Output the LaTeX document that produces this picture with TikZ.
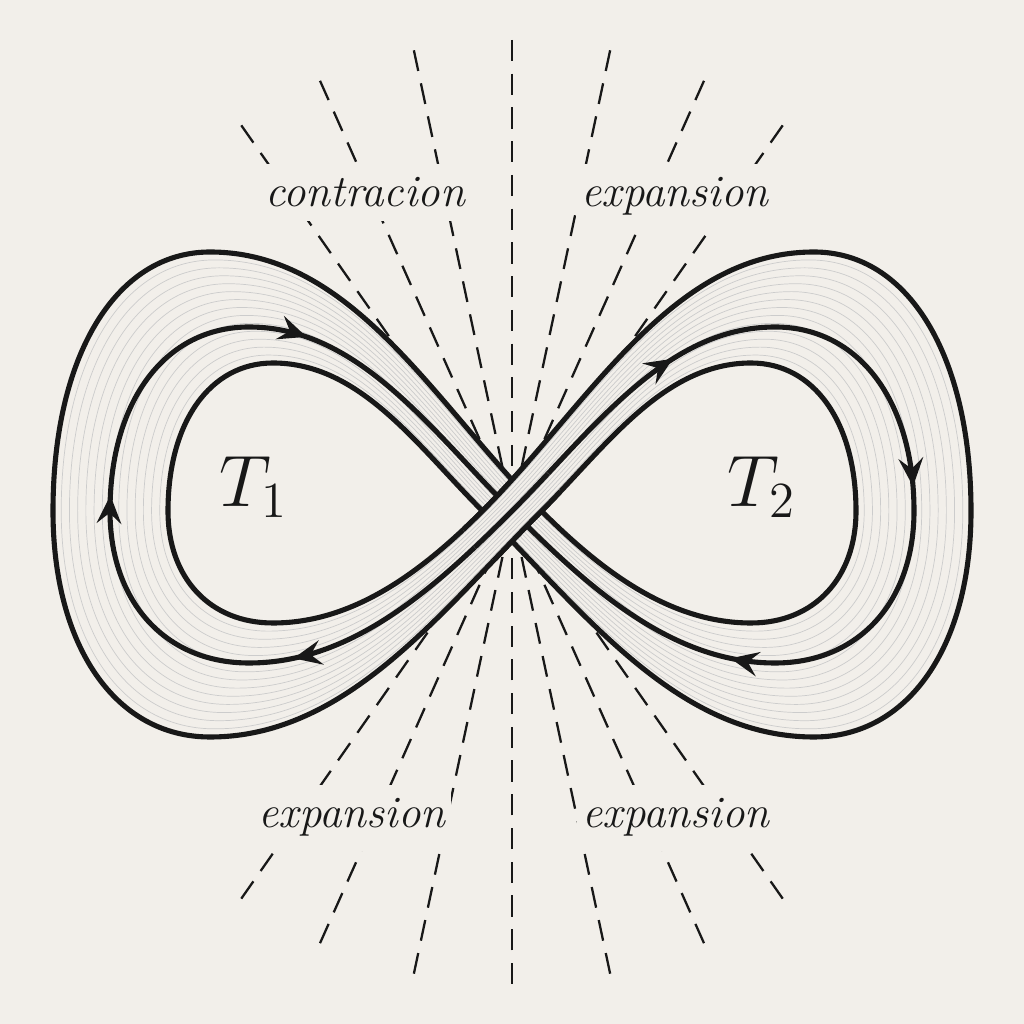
\documentclass[tikz,border=0pt]{standalone}
\usepackage{fontspec}
\usetikzlibrary{arrows.meta,decorations.markings}

\definecolor{paper}{RGB}{242,239,234}
\definecolor{ink}{RGB}{24,24,24}

% crossing angle and offset of the two ribbon edges
\def\eal{45}
\def\ecross{29.5}

% control lengths of one figure-eight
\newcommand\setctrl{%
  \pgfmathsetmacro\aLu{0.36*veclen(\lT+\xc,\lHu)}%
  \pgfmathsetmacro\bLu{0.34*veclen(\lT+\xc,\lHu)}%
  \pgfmathsetmacro\aLd{0.36*veclen(\lT+\xc,\lHd)}%
  \pgfmathsetmacro\bLd{0.34*veclen(\lT+\xc,\lHd)}%
  \pgfmathsetmacro\aRu{0.36*veclen(\rT-\xc,\rHu)}%
  \pgfmathsetmacro\bRu{0.34*veclen(\rT-\xc,\rHu)}%
  \pgfmathsetmacro\aRd{0.36*veclen(\rT-\xc,\rHd)}%
  \pgfmathsetmacro\bRd{0.34*veclen(\rT-\xc,\rHd)}%
  \pgfmathsetmacro\eL{0.6*(\lW-\lT)}%
  \pgfmathsetmacro\eR{0.6*(\rW-\rT)}%
  \pgfmathsetmacro\vLu{0.6*\lHu}\pgfmathsetmacro\vLd{0.6*\lHd}%
  \pgfmathsetmacro\vRu{0.6*\rHu}\pgfmathsetmacro\vRd{0.6*\rHd}}

% 0 = left inner + right outer, 1 = left outer + right inner
\newcommand\setlobes[1]{%
  \pgfmathsetmacro\lam{#1}%
  \pgfmathsetmacro\xc{(2*\lam-1)*\ecross}%
  \pgfmathsetmacro\lT{239+63*\lam}\pgfmathsetmacro\lW{344+115*\lam}%
  \pgfmathsetmacro\lHu{148+111*\lam}\pgfmathsetmacro\lHd{112+114*\lam}%
  \pgfmathsetmacro\rT{239+63*(1-\lam)}\pgfmathsetmacro\rW{344+115*(1-\lam)}%
  \pgfmathsetmacro\rHu{148+111*(1-\lam)}\pgfmathsetmacro\rHd{112+114*(1-\lam)}%
  \setctrl}

\newcommand\setmiddle{%
  \def\xc{0}%
  \def\lT{263}\def\lW{402}\def\lHu{184}\def\lHd{152}%
  \def\rT{263}\def\rW{402}\def\rHu{184}\def\rHd{152}%
  \setctrl}

\newcommand\eightpath{(\xc,0)
  .. controls +(180-\eal:\aLu) and +(0:\bLu) .. (-\lT,\lHu)
  .. controls +(180:\eL) and +(90:\vLu) .. (-\lW,0)
  .. controls +(270:\vLd) and +(180:\eL) .. (-\lT,-\lHd)
  .. controls +(0:\bLd) and +(180+\eal:\aLd) .. (\xc,0)
  .. controls +(\eal:\aRu) and +(180:\bRu) .. (\rT,\rHu)
  .. controls +(0:\eR) and +(90:\vRu) .. (\rW,0)
  .. controls +(270:\vRd) and +(0:\eR) .. (\rT,-\rHd)
  .. controls +(180:\bRd) and +(-\eal:\aRd) .. (\xc,0) -- cycle}

% the strand that passes over the crossing
\newcommand\overpath{(-\lT,-\lHd)
  .. controls +(0:\bLd) and +(180+\eal:\aLd) .. (\xc,0)
  .. controls +(\eal:\aRu) and +(180:\bRu) .. (\rT,\rHu)}

\begin{document}
\begin{tikzpicture}[x=0.1mm, y=0.1mm,
  ray/.style={draw=ink, line width=0.65pt, dash pattern=on 6pt off 3.6pt},
  edge/.style={draw=ink, line width=1.45pt},
  hatch/.style={draw=gray!40, line width=0.2pt},
  lbl/.style={font=\fontsize{12.8}{15}\selectfont\itshape, fill=paper,
              inner xsep=1.5pt, inner ysep=4pt, text=ink},
  tlbl/.style={font=\fontsize{19.5}{23}\selectfont, text=ink, inner sep=0pt},
  flow/.tip={Stealth[length=8pt, width=7pt, inset=3pt]}]

\fill[paper] (0,0) rectangle (1024,1024);
\useasboundingbox (0,0) rectangle (1024,1024);

% dashed rays from the centre
\foreach \a in {-35,-24,-12,0,12,24,35}{
  \draw[ray, shift={(512,512)}] (90+\a:472) -- (90+\a:30);
  \draw[ray, shift={(512,512)}] (270+\a:472) -- (270+\a:30);}

% labels
\node[lbl, anchor=base] (contr) at (365,817) {contracion};
\node[lbl, anchor=base] (expTR) at (675,817) {expansion};
\node[lbl, anchor=base] (expBL) at (352,196) {expansion};
\node[lbl, anchor=base] (expBR) at (676,196) {expansion};

\begin{scope}[shift={(512,513)}]
  % ribbon covers the rays
  \setlobes{0}\fill[paper] \eightpath;
  \setlobes{1}\fill[paper] \eightpath;
  % fine shading of the ribbon
  \foreach \i in {1,...,13}{\setlobes{\i/14}\draw[hatch] \eightpath;}
  % ribbon edges
  \setlobes{0}\draw[edge] \eightpath;
  \setlobes{1}\draw[edge] \eightpath;
  % middle orbit with arrows
  \setmiddle
  \draw[edge, postaction={decorate}, decoration={markings,
      mark=at position 0.120 with {\arrowreversed{flow}},
      mark=at position 0.253 with {\arrowreversed{flow}},
      mark=at position 0.382 with {\arrowreversed{flow}},
      mark=at position 0.598 with {\arrow{flow}},
      mark=at position 0.749 with {\arrow{flow}},
      mark=at position 0.882 with {\arrow{flow}}}] \eightpath;
  % band from lower left to upper right lies on top
  \begin{scope}
    \clip (0,0) circle (52);
    \fill[paper, rotate=\eal] (-70,-20.5) rectangle (70,20.5);
    \foreach \i in {1,...,13}{\setlobes{\i/14}\draw[hatch] \overpath;}
    \setlobes{0}\draw[edge] \overpath;
    \setlobes{1}\draw[edge] \overpath;
    \setmiddle\draw[edge] \overpath;
  \end{scope}
\end{scope}

\node[tlbl, anchor=base] (tone) at (254,517) {$T_1$};
\node[tlbl, anchor=base] (ttwo) at (762,517) {$T_2$};
\end{tikzpicture}
\end{document}
